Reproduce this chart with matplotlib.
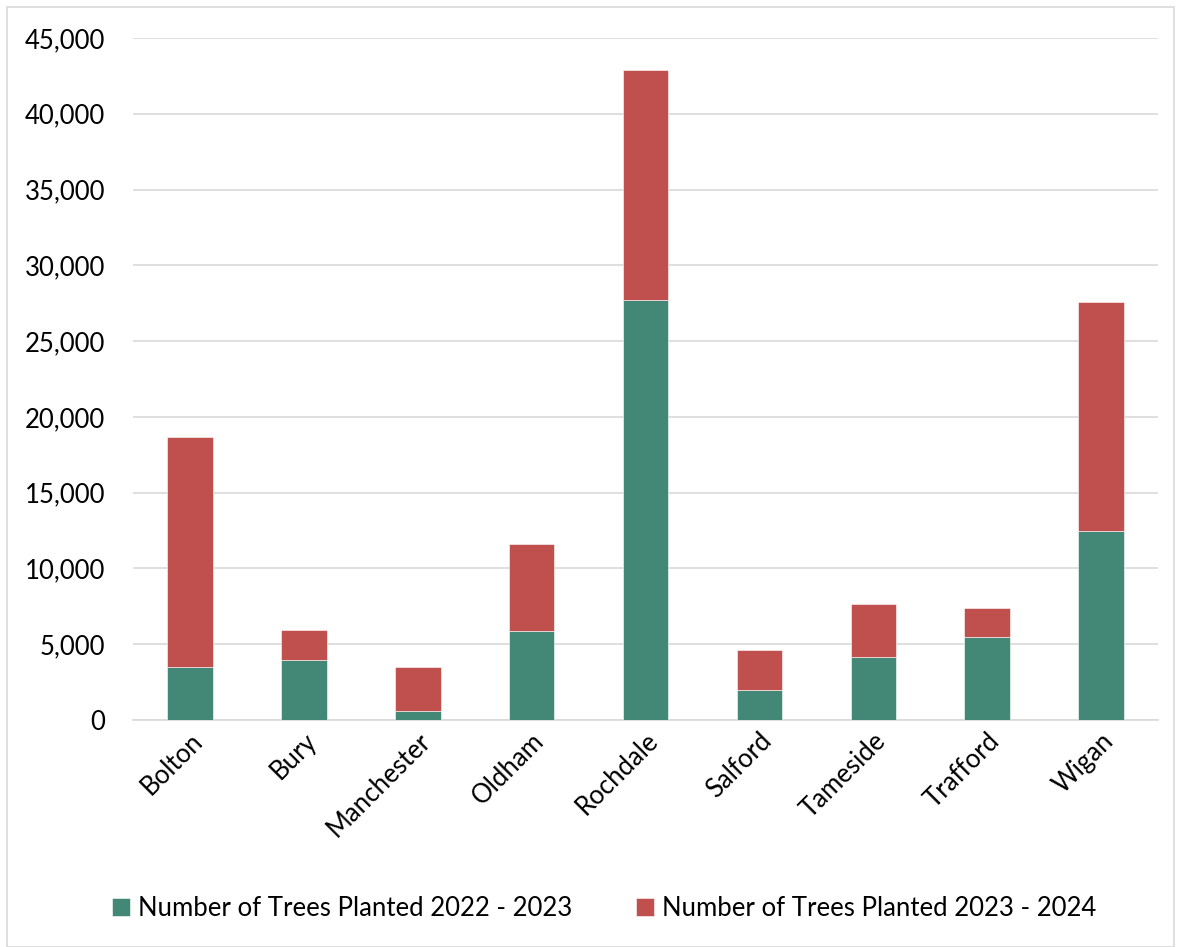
import matplotlib.pyplot as plt
from matplotlib.patches import Rectangle
from matplotlib.ticker import FuncFormatter

# trees planted per borough
boroughs = ['Bolton', 'Bury', 'Manchester', 'Oldham', 'Rochdale',
            'Salford', 'Tameside', 'Trafford', 'Wigan']
trees_2022_23 = [3520, 3960, 570, 5850, 27720, 1980, 4160, 5450, 12440]
trees_2023_24 = [15170, 1960, 2950, 5760, 15140, 2610, 3520, 1950, 15140]

green = '#438876'
red = '#C0504D'

plt.rcParams['font.family'] = ['Lato', 'DejaVu Sans']

fig = plt.figure(figsize=(11.81, 9.47), dpi=100)
ax = fig.add_axes([133 / 1181, 1 - 720 / 947, 1025 / 1181, 682 / 947])

x = range(len(boroughs))
ax.bar(x, trees_2022_23, width=0.4, color=green, edgecolor='white',
       linewidth=0.4, label='Number of Trees Planted 2022 - 2023', zorder=3)
ax.bar(x, trees_2023_24, width=0.4, bottom=trees_2022_23, color=red,
       edgecolor='white', linewidth=0.4,
       label='Number of Trees Planted 2023 - 2024', zorder=3)

ax.set_ylim(0, 45000)
ax.set_xlim(-0.5, len(boroughs) - 0.5)
ax.set_yticks(range(0, 45001, 5000))
ax.yaxis.set_major_formatter(FuncFormatter(lambda v, p: f'{int(v):,}'))
ax.grid(axis='y', color='#D9D9D9', linewidth=1.2, zorder=0)
for s in ['top', 'right', 'left']:
    ax.spines[s].set_visible(False)
ax.spines['bottom'].set_color('#D9D9D9')
ax.spines['bottom'].set_linewidth(1.2)
ax.tick_params(axis='both', length=0, labelsize=18.5, colors='black')
ax.tick_params(axis='y', pad=20)
ax.tick_params(axis='x', pad=6)
ax.set_xticks(list(x))
ax.set_xticklabels(boroughs, rotation=45, ha='right', va='top',
                   rotation_mode='anchor')

fig.legend(loc='center', bbox_to_anchor=(604 / 1181, 1 - 908 / 947), ncol=2,
           frameon=False, fontsize=18.5, handlelength=0.7, handleheight=0.7,
           columnspacing=2.5, handletextpad=0.3)

fig.patches.append(Rectangle((7 / 1181, 0), 1 - 14 / 1181, 1 - 7 / 947,
                             transform=fig.transFigure, fill=False,
                             edgecolor='#D9D9D9', linewidth=1.2))

plt.savefig('out.png', dpi=100)
